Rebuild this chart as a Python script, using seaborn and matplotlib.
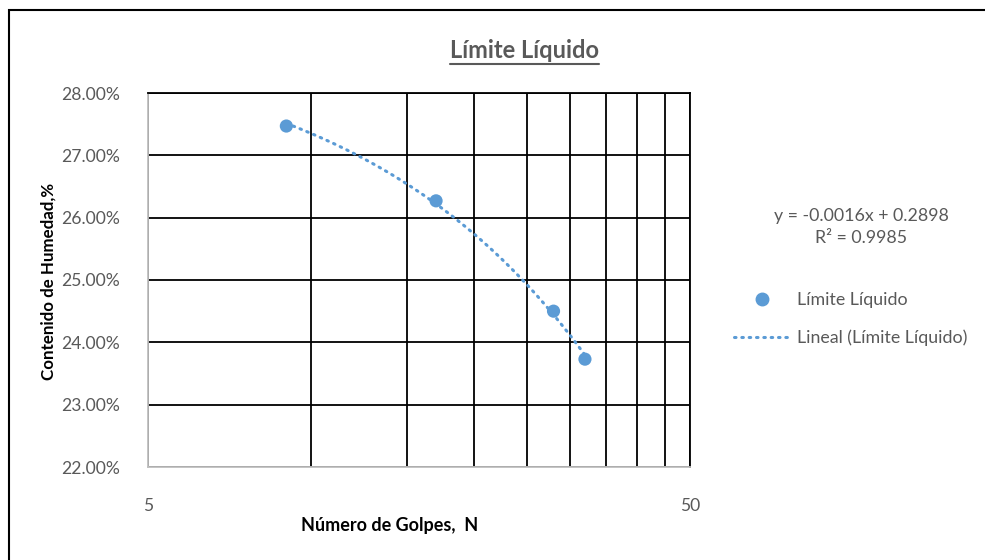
import numpy as np
import pandas as pd
import seaborn as sns
import matplotlib.pyplot as plt
from matplotlib.ticker import FixedLocator, FixedFormatter, NullLocator, PercentFormatter
from matplotlib.lines import Line2D
from matplotlib.patches import Rectangle

golpes = [9, 17, 28, 32]
humedad = [0.2747, 0.2627, 0.2450, 0.2373]
series_name = "Límite Líquido"
trend_name = "Lineal (Límite Líquido)"
equation = "y = -0.0016x + 0.2898\nR² = 0.9985"
x_grid = [5, 10, 15, 20, 25, 30, 35, 40, 45, 50]
x_labels = ["5", "", "", "", "", "", "", "", "", "50"]
y_ticks = [0.22, 0.23, 0.24, 0.25, 0.26, 0.27, 0.28]

df = pd.DataFrame({"N": golpes, "w": humedad})

sns.set_theme(style="white")
plt.rcParams['font.family'] = ['Lato', 'DejaVu Sans']

blue = "#5B9BD5"
gray_txt = "#595959"

fig = plt.figure(figsize=(9.85, 5.6), dpi=100)
ax = fig.add_axes([148/985, 1-467/560, 542/985, 374/560])

ax.set_xscale("log")
ax.set_xlim(5, 50)
ax.set_ylim(0.22, 0.28)

dot = (0, (0.5, 1.9))
sns.regplot(data=df, x="N", y="w", ax=ax, scatter=False, ci=None, color=blue,
            line_kws=dict(lw=2.2, linestyle=dot, dash_capstyle="round", zorder=3))
sns.scatterplot(data=df, x="N", y="w", ax=ax, color=blue, s=90, edgecolor="none", zorder=4)

ax.xaxis.set_major_locator(FixedLocator(x_grid))
ax.xaxis.set_major_formatter(FixedFormatter(x_labels))
ax.xaxis.set_minor_locator(NullLocator())
ax.yaxis.set_major_locator(FixedLocator(y_ticks))
ax.yaxis.set_major_formatter(PercentFormatter(1.0, decimals=2))

ax.grid(True, color="black", lw=1.3)
ax.set_axisbelow(True)
for s in ["top", "right"]:
    ax.spines[s].set_color("black")
    ax.spines[s].set_linewidth(1.3)
for s in ["left", "bottom"]:
    ax.spines[s].set_color("#BFBFBF")
    ax.spines[s].set_linewidth(1.3)
ax.tick_params(axis="both", length=0, labelsize=12.6, labelcolor=gray_txt)
ax.tick_params(axis="y", pad=20)
ax.tick_params(axis="x", pad=22)
ax.set_xlabel("")
ax.set_ylabel("")

fig.text(390/985, 1-526/560, "Número de Golpes,  N", ha="center", va="center",
         fontsize=13, fontweight="bold", color="black")
fig.text(49/985, 1-281/560, "Contenido de Humedad,%", ha="center", va="center",
         rotation=90, fontsize=12.2, fontweight="bold", color="black")

title = fig.text(524/985, 1-50/560, "Límite Líquido", ha="center", va="center",
                 fontsize=17, fontweight="bold", color=gray_txt)
fig.canvas.draw()
bb = title.get_window_extent(renderer=fig.canvas.get_renderer())
uy = (bb.y0 - 2) / fig.bbox.height
fig.add_artist(Line2D([bb.x0 / fig.bbox.width, bb.x1 / fig.bbox.width], [uy, uy],
                      transform=fig.transFigure, color=gray_txt, lw=1.5))

fig.text(861/985, 1-227/560, equation, ha="center", va="center", fontsize=12.8,
         color=gray_txt, linespacing=1.45)

handles = [Line2D([], [], marker="o", color=blue, linestyle="none", markersize=9),
           Line2D([], [], color=blue, lw=2.2, linestyle=dot, dash_capstyle="round")]
leg = fig.legend(handles, [series_name, trend_name], loc="upper left",
                 bbox_to_anchor=(718/985, 1-276/560), frameon=False, fontsize=12.8,
                 handlelength=3.1, handletextpad=0.45, labelspacing=1.22)
for t in leg.get_texts():
    t.set_color(gray_txt)

fig.add_artist(Rectangle((9/985, -0.1), 1.2, 1 - 10/560 + 0.1, transform=fig.transFigure,
                         fill=False, edgecolor="black", lw=1.5, clip_on=False))

fig.savefig("out.png", dpi=100, facecolor="white")
